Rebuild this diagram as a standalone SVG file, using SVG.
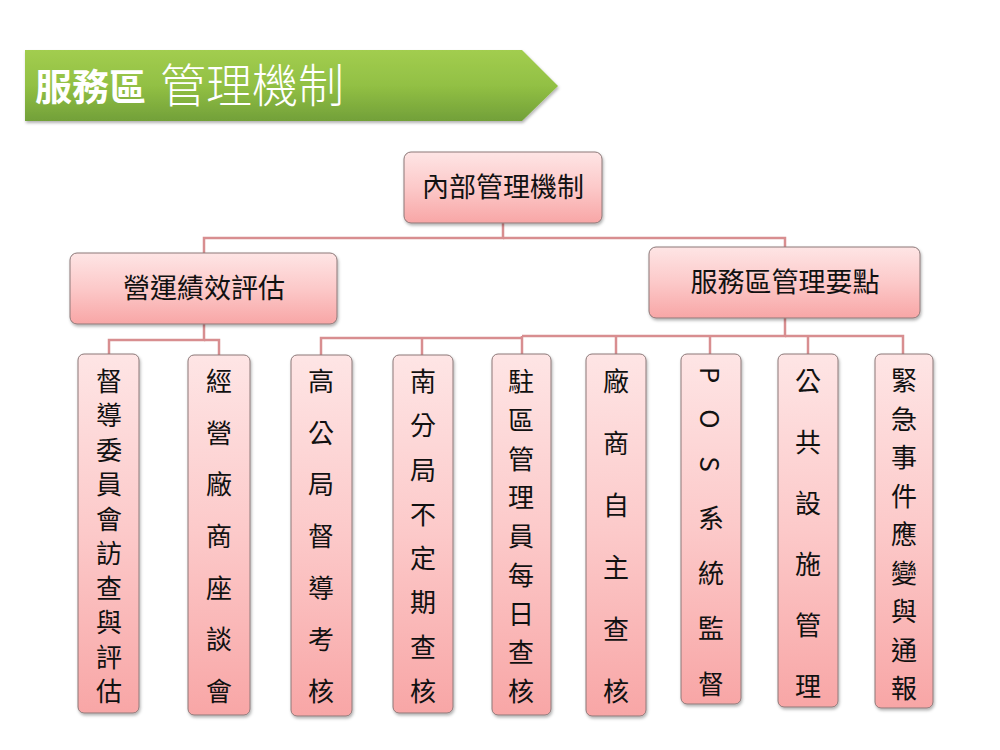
<svg xmlns="http://www.w3.org/2000/svg" width="1000" height="750" viewBox="0 0 1000 750">
<defs>
  <linearGradient id="gPink" x1="0" y1="0" x2="0" y2="1">
    <stop offset="0" stop-color="#fee5e5"/>
    <stop offset="0.5" stop-color="#fcc9c9"/>
    <stop offset="1" stop-color="#f8a6a6"/>
  </linearGradient>
  <linearGradient id="gGreen" x1="0" y1="0" x2="0" y2="1">
    <stop offset="0" stop-color="#a2cd4f"/>
    <stop offset="0.5" stop-color="#92c044"/>
    <stop offset="1" stop-color="#72a039"/>
  </linearGradient>
  <filter id="sh" x="-10%" y="-10%" width="130%" height="130%">
    <feDropShadow dx="1" dy="2" stdDeviation="1.5" flood-color="#000" flood-opacity="0.3"/>
  </filter>
</defs>
<style>
  .box { fill: url(#gPink); stroke: #8c7878; stroke-width: 1; filter: url(#sh); }
  .lbl { font-family: "Noto Sans CJK TC", "Noto Sans CJK SC", sans-serif; font-size: 27px; fill: #111; text-anchor: middle; }
  .vt { font-family: "Noto Sans CJK TC", "Noto Sans CJK SC", sans-serif; font-size: 26px; fill: #111; text-anchor: middle; dominant-baseline: central; }
  .conn { fill: none; stroke: #d88e90; stroke-width: 2.5; }
  .ttl { font-family: "Noto Sans CJK TC", "Noto Sans CJK SC", sans-serif; fill: #ffffff; }
</style>
<rect width="1000" height="750" fill="#ffffff"/>

<g id="title">
  <polygon points="25,50 522,50 558,86 522,121 25,121" fill="url(#gGreen)" filter="url(#sh)"/>
  <text class="ttl" x="35" y="101" font-size="37" font-weight="bold">服務區</text>
  <text class="ttl" x="160" y="102" font-size="46" font-weight="300">管理機制</text>
</g>

<g id="connectors" class="conn">
  <polyline points="503,223 503,238 204,238 204,253"/>
  <polyline points="503,238 785,238 785,247"/>
  <polyline points="204,324 204,340 109,340 109,354"/>
  <polyline points="204,340 219,340 219,355"/>
  <polyline points="785,318 785,336 522,336"/>
  <polyline points="522,338 321,338 321,355"/>
  <line x1="422" y1="338" x2="422" y2="355"/>
  <line x1="522" y1="336" x2="522" y2="354"/>
  <polyline points="785,336 903,336 903,354"/>
  <line x1="616" y1="336" x2="616" y2="354"/>
  <line x1="710" y1="336" x2="710" y2="354"/>
  <line x1="808" y1="336" x2="808" y2="354"/>
</g>

<g id="n-root">
  <rect class="box" x="404" y="152" width="198" height="71" rx="7"/>
  <text class="lbl" x="503" y="197">內部管理機制</text>
</g>
<g id="n-perf">
  <rect class="box" x="70" y="253" width="267" height="71" rx="7"/>
  <text class="lbl" x="204" y="298">營運績效評估</text>
</g>
<g id="n-rules">
  <rect class="box" x="649" y="247" width="271" height="71" rx="7"/>
  <text class="lbl" x="785" y="292">服務區管理要點</text>
</g>

<g id="n-a1">
  <rect class="box" x="78" y="354" width="61" height="359" rx="6"/>
  <text class="vt"><tspan x="109" y="379">督</tspan><tspan x="109" y="413.4">導</tspan><tspan x="109" y="447.9">委</tspan><tspan x="109" y="482.3">員</tspan><tspan x="109" y="516.8">會</tspan><tspan x="109" y="551.2">訪</tspan><tspan x="109" y="585.7">查</tspan><tspan x="109" y="620.1">與</tspan><tspan x="109" y="654.6">評</tspan><tspan x="109" y="689">估</tspan></text>
</g>
<g id="n-a2">
  <rect class="box" x="188" y="355" width="62" height="360" rx="6"/>
  <text class="vt"><tspan x="219" y="379">經</tspan><tspan x="219" y="430.7">營</tspan><tspan x="219" y="482.3">廠</tspan><tspan x="219" y="534">商</tspan><tspan x="219" y="585.7">座</tspan><tspan x="219" y="637.3">談</tspan><tspan x="219" y="689">會</tspan></text>
</g>
<g id="n-b1">
  <rect class="box" x="291" y="355" width="61" height="361" rx="6"/>
  <text class="vt"><tspan x="321" y="379">高</tspan><tspan x="321" y="430.7">公</tspan><tspan x="321" y="482.3">局</tspan><tspan x="321" y="534">督</tspan><tspan x="321" y="585.7">導</tspan><tspan x="321" y="637.3">考</tspan><tspan x="321" y="689">核</tspan></text>
</g>
<g id="n-b2">
  <rect class="box" x="393" y="355" width="60" height="358" rx="6"/>
  <text class="vt"><tspan x="423" y="379">南</tspan><tspan x="423" y="423.3">分</tspan><tspan x="423" y="467.6">局</tspan><tspan x="423" y="511.9">不</tspan><tspan x="423" y="556.1">定</tspan><tspan x="423" y="600.4">期</tspan><tspan x="423" y="644.7">查</tspan><tspan x="423" y="689">核</tspan></text>
</g>
<g id="n-b3">
  <rect class="box" x="492" y="354" width="59" height="361" rx="6"/>
  <text class="vt"><tspan x="521" y="379">駐</tspan><tspan x="521" y="417.8">區</tspan><tspan x="521" y="456.5">管</tspan><tspan x="521" y="495.3">理</tspan><tspan x="521" y="534">員</tspan><tspan x="521" y="572.8">每</tspan><tspan x="521" y="611.5">日</tspan><tspan x="521" y="650.3">查</tspan><tspan x="521" y="689">核</tspan></text>
</g>
<g id="n-b4">
  <rect class="box" x="586" y="354" width="60" height="362" rx="6"/>
  <text class="vt"><tspan x="616" y="379">廠</tspan><tspan x="616" y="441">商</tspan><tspan x="616" y="503">自</tspan><tspan x="616" y="565">主</tspan><tspan x="616" y="627">查</tspan><tspan x="616" y="689">核</tspan></text>
</g>
<g id="n-b5">
  <rect class="box" x="681" y="354" width="60" height="350" rx="6"/>
  <text class="vt" transform="rotate(90 711 375)" x="711" y="375">P</text>
  <text class="vt" transform="rotate(90 711 419)" x="711" y="419">O</text>
  <text class="vt" transform="rotate(90 711 464)" x="711" y="464">S</text>
  <text class="vt"><tspan x="711" y="516">系</tspan><tspan x="711" y="571">統</tspan><tspan x="711" y="626">監</tspan><tspan x="711" y="682">督</tspan></text>
</g>
<g id="n-b6">
  <rect class="box" x="778" y="354" width="60" height="353" rx="6"/>
  <text class="vt"><tspan x="808" y="379">公</tspan><tspan x="808" y="440">共</tspan><tspan x="808" y="501">設</tspan><tspan x="808" y="562">施</tspan><tspan x="808" y="623">管</tspan><tspan x="808" y="684">理</tspan></text>
</g>
<g id="n-b7">
  <rect class="box" x="875" y="354" width="58" height="354" rx="6"/>
  <text class="vt"><tspan x="904" y="378">緊</tspan><tspan x="904" y="416.5">急</tspan><tspan x="904" y="455">事</tspan><tspan x="904" y="493.5">件</tspan><tspan x="904" y="532">應</tspan><tspan x="904" y="570.5">變</tspan><tspan x="904" y="609">與</tspan><tspan x="904" y="647.5">通</tspan><tspan x="904" y="686">報</tspan></text>
</g>
</svg>
